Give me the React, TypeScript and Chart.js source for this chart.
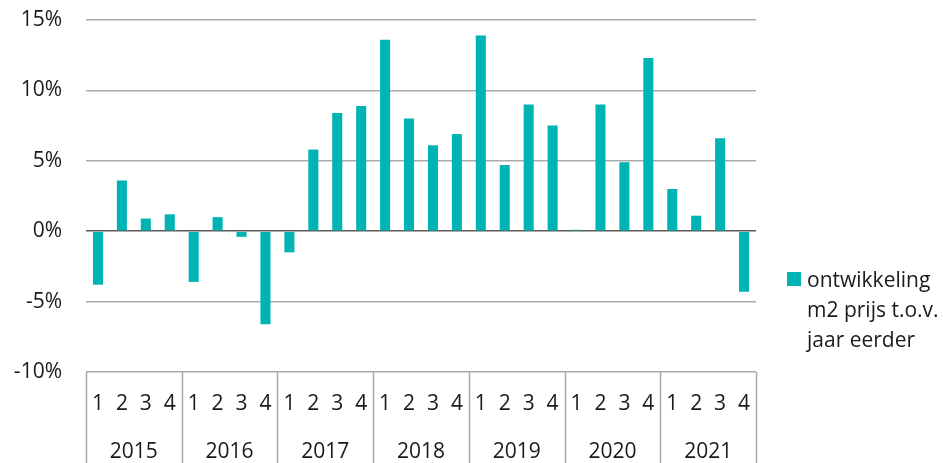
import React, { useEffect, useRef } from "react";
import { Chart, registerables } from "chart.js";

Chart.register(...registerables);

const years = ["2015", "2016", "2017", "2018", "2019", "2020", "2021"];
const quarters = ["1", "2", "3", "4"];
const values = [
  -3.8, 3.6, 0.9, 1.2,
  -3.6, 1.0, -0.4, -6.6,
  -1.5, 5.8, 8.4, 8.9,
  13.6, 8.0, 6.1, 6.9,
  13.9, 4.7, 9.0, 7.5,
  0.1, 9.0, 4.9, 12.3,
  3.0, 1.1, 6.6, -4.3,
];
const seriesName = "ontwikkeling m2 prijs t.o.v. jaar eerder";
const legendLines = ["ontwikkeling", "m2 prijs t.o.v.", "jaar eerder"];
const yMin = -10;
const yMax = 15;
const yStep = 5;

const FONT = "'Open Sans', sans-serif";
const FONT_SIZE = 21;
const TEXT_COLOR = "#1a1a1a";
const BAR_COLOR = "#00b4b4";
const GRID_COLOR = "#ababab";
const ZERO_COLOR = "#5a5a5a";
const SEP_COLOR = "#a6a6a6";

const quarterLabels = years.flatMap(() => quarters);

const yearAxisPlugin = {
  id: "yearAxis",
  afterDraw(chart: any) {
    const ctx = chart.ctx;
    const xs = chart.scales.x;
    const n = quarters.length;
    const top = chart.chartArea.bottom;
    const bottom = chart.height;
    ctx.save();
    ctx.strokeStyle = SEP_COLOR;
    ctx.lineWidth = 1.5;
    for (let i = 0; i <= years.length; i++) {
      let bx: number;
      if (i === 0) bx = xs.left;
      else if (i === years.length) bx = xs.right;
      else bx = (xs.getPixelForValue(i * n - 1) + xs.getPixelForValue(i * n)) / 2;
      ctx.beginPath();
      ctx.moveTo(Math.round(bx) + 0.5, top);
      ctx.lineTo(Math.round(bx) + 0.5, bottom);
      ctx.stroke();
    }
    ctx.fillStyle = TEXT_COLOR;
    ctx.font = `${FONT_SIZE}px ${FONT}`;
    ctx.textAlign = "center";
    ctx.textBaseline = "middle";
    years.forEach((y, i) => {
      const cx = (xs.getPixelForValue(i * n) + xs.getPixelForValue(i * n + n - 1)) / 2;
      ctx.fillText(y, cx, top + 80);
    });

    // legend
    const lx = chart.chartArea.right + 31;
    const ly = 272;
    ctx.fillStyle = BAR_COLOR;
    ctx.fillRect(lx, ly, 14, 14);
    ctx.fillStyle = TEXT_COLOR;
    ctx.textAlign = "left";
    ctx.textBaseline = "alphabetic";
    legendLines.forEach((line, i) => {
      ctx.fillText(line, lx + 20, ly + 15 + i * 30);
    });
    ctx.restore();
  },
};

export default function App() {
  const canvasRef = useRef<HTMLCanvasElement | null>(null);

  useEffect(() => {
    if (!canvasRef.current) return;
    const chart = new Chart(canvasRef.current, {
      type: "bar",
      data: {
        labels: quarterLabels,
        datasets: [
          {
            label: seriesName,
            data: values,
            backgroundColor: BAR_COLOR,
            borderWidth: 0,
            barPercentage: 0.42,
            categoryPercentage: 1,
          },
        ],
      },
      plugins: [yearAxisPlugin],
      options: {
        animation: false,
        responsive: false,
        maintainAspectRatio: false,
        layout: { padding: { top: 20, right: 187, left: 0, bottom: 0 } },
        plugins: {
          legend: { display: false },
          tooltip: { enabled: false },
        },
        scales: {
          x: {
            type: "category",
            offset: true,
            grid: { display: false, drawTicks: false },
            border: { display: false },
            ticks: {
              color: TEXT_COLOR,
              font: { family: FONT, size: FONT_SIZE },
              padding: 19,
              autoSkip: false,
              maxRotation: 0,
            },
            afterFit(scale: any) {
              scale.height = 91;
            },
          },
          y: {
            min: yMin,
            max: yMax,
            grid: {
              drawTicks: true,
              tickLength: 24,
              tickColor: "rgba(0,0,0,0)",
              lineWidth: 1.5,
              color: (c: any) => (c.tick && c.tick.value === 0 ? ZERO_COLOR : GRID_COLOR),
            },
            border: { display: false },
            ticks: {
              stepSize: yStep,
              color: TEXT_COLOR,
              font: { family: FONT, size: FONT_SIZE },
              padding: 0,
              callback: (v: any) => `${v}%`,
            },
            afterFit(scale: any) {
              scale.width = 86;
            },
          },
        },
      },
    });
    return () => chart.destroy();
  }, []);

  return (
    <div style={{ position: "fixed", left: 0, top: 0, width: 943, height: 463, background: "#fff" }}>
      <canvas ref={canvasRef} width={943} height={463} style={{ display: "block" }} />
    </div>
  );
}
